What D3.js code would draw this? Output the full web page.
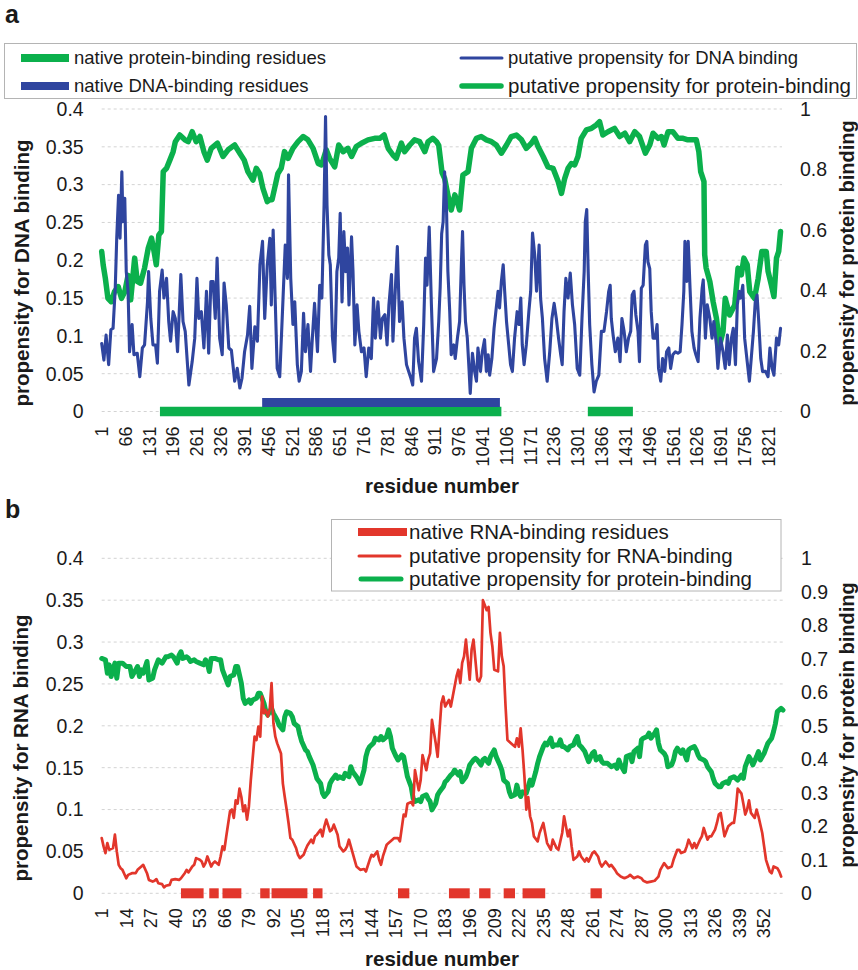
<!DOCTYPE html>
<html>
<head>
<meta charset="utf-8">
<script src="https://cdn.jsdelivr.net/npm/d3@7"></script>
<style>
  html, body { margin: 0; padding: 0; background: #fff; }
  svg { display: block; font-family: "Liberation Sans", Arial, Helvetica, sans-serif; }
</style>
</head>
<body>
<svg id="chart" width="858" height="970"></svg>
<script>
// ---------- Panel a: protein with DNA-binding and protein-binding propensities ----------
const residueTicksA = [1, 66, 131, 196, 261, 326, 391, 456, 521, 586, 651, 716, 781, 846, 911, 976,
  1041, 1106, 1171, 1236, 1301, 1366, 1431, 1496, 1561, 1626, 1691, 1756, 1821];
const lengthA = 1858;
const leftTicksA = [0, 0.05, 0.1, 0.15, 0.2, 0.25, 0.3, 0.35, 0.4];
const rightTicksA = [0, 0.2, 0.4, 0.6, 0.8, 1];

// putative propensity for DNA binding (left axis), [residue, value]
const dnaPropensity = [
  [1,0.09],[7,0.068],[13,0.101],[20,0.062],[26,0.108],[32,0.11],[38,0.163],[42,0.229],[47,0.286],[51,0.229],
  [56,0.317],[59,0.251],[64,0.282],[68,0.185],[73,0.159],[77,0.079],[84,0.115],[89,0.075],[98,0.077],[105,0.046],
  [112,0.084],[118,0.088],[126,0.145],[129,0.185],[135,0.123],[141,0.088],[148,0.088],[153,0.064],[159,0.159],[166,0.187],
  [171,0.15],[178,0.176],[184,0.119],[189,0.093],[196,0.132],[202,0.123],[208,0.079],[217,0.181],[223,0.119],[229,0.106],
  [239,0.035],[248,0.066],[255,0.097],[261,0.176],[266,0.123],[273,0.132],[280,0.084],[287,0.159],[293,0.077],[299,0.172],
  [305,0.172],[311,0.123],[316,0.203],[323,0.097],[330,0.075],[335,0.17],[341,0.141],[348,0.084],[355,0.081],[364,0.04],
  [371,0.057],[378,0.031],[384,0.044],[391,0.079],[399,0.101],[405,0.139],[411,0.057],[419,0.112],[426,0.093],[433,0.194],
  [440,0.225],[446,0.123],[453,0.194],[460,0.229],[464,0.141],[469,0.24],[475,0.141],[480,0.057],[487,0.046],[496,0.15],
  [502,0.22],[508,0.176],[511,0.313],[517,0.176],[523,0.115],[528,0.145],[535,0.062],[540,0.04],[546,0.053],[552,0.13],
  [557,0.079],[564,0.115],[571,0.053],[576,0.097],[582,0.143],[590,0.079],[596,0.167],[602,0.15],[608,0.273],[612,0.39],
  [616,0.273],[621,0.207],[625,0.194],[631,0.097],[637,0.066],[643,0.185],[648,0.203],[652,0.262],[657,0.145],[662,0.238],
  [667,0.185],[672,0.216],[676,0.141],[683,0.231],[687,0.185],[692,0.088],[698,0.141],[703,0.106],[710,0.079],[717,0.084],
  [723,0.046],[730,0.084],[737,0.07],[743,0.15],[748,0.097],[755,0.145],[762,0.097],[767,0.123],[774,0.128],[780,0.088],
  [785,0.141],[792,0.181],[796,0.093],[803,0.167],[808,0.218],[814,0.119],[821,0.145],[826,0.097],[833,0.062],[839,0.053],
  [845,0.044],[850,0.035],[855,0.097],[860,0.11],[866,0.066],[874,0.04],[880,0.115],[885,0.203],[889,0.167],[895,0.244],
  [901,0.141],[907,0.053],[915,0.07],[921,0.119],[925,0.165],[929,0.235],[933,0.251],[937,0.317],[942,0.273],[946,0.185],
  [951,0.132],[955,0.075],[962,0.088],[966,0.07],[972,0.097],[978,0.119],[983,0.198],[986,0.238],[990,0.167],[994,0.119],
  [999,0.097],[1004,0.053],[1007,0.024],[1013,0.077],[1019,0.053],[1024,0.04],[1028,0.084],[1035,0.053],[1040,0.079],[1046,0.095],
  [1051,0.053],[1056,0.075],[1060,0.048],[1066,0.07],[1072,0.11],[1078,0.137],[1083,0.159],[1087,0.137],[1092,0.172],[1097,0.194],
  [1101,0.159],[1106,0.119],[1112,0.088],[1117,0.062],[1122,0.053],[1128,0.097],[1135,0.132],[1140,0.115],[1145,0.15],[1149,0.088],
  [1154,0.062],[1160,0.088],[1167,0.132],[1172,0.159],[1177,0.236],[1183,0.207],[1188,0.159],[1195,0.22],[1199,0.15],[1204,0.123],
  [1210,0.07],[1217,0.04],[1224,0.079],[1230,0.123],[1236,0.143],[1242,0.123],[1248,0.097],[1254,0.075],[1258,0.062],[1263,0.132],
  [1268,0.176],[1274,0.15],[1280,0.183],[1286,0.141],[1292,0.115],[1299,0.057],[1306,0.048],[1312,0.123],[1318,0.185],[1321,0.251],
  [1325,0.267],[1329,0.185],[1333,0.115],[1339,0.062],[1345,0.026],[1351,0.04],[1358,0.048],[1365,0.106],[1372,0.106],[1379,0.132],
  [1385,0.159],[1389,0.167],[1392,0.123],[1397,0.101],[1403,0.079],[1410,0.097],[1416,0.066],[1421,0.123],[1427,0.106],[1433,0.079],
  [1439,0.097],[1445,0.106],[1449,0.154],[1454,0.159],[1459,0.128],[1465,0.106],[1469,0.066],[1474,0.163],[1479,0.167],[1485,0.22],
  [1489,0.225],[1492,0.198],[1497,0.189],[1501,0.132],[1506,0.097],[1512,0.097],[1517,0.115],[1521,0.057],[1527,0.04],[1532,0.07],
  [1538,0.053],[1543,0.079],[1549,0.084],[1554,0.057],[1560,0.075],[1567,0.079],[1574,0.077],[1580,0.079],[1585,0.115],[1590,0.159],
  [1593,0.225],[1598,0.172],[1602,0.225],[1607,0.163],[1612,0.106],[1618,0.084],[1623,0.075],[1629,0.066],[1634,0.123],[1640,0.163],
  [1643,0.174],[1649,0.097],[1654,0.141],[1661,0.123],[1667,0.097],[1672,0.119],[1679,0.088],[1683,0.057],[1690,0.097],[1697,0.079],
  [1703,0.057],[1709,0.101],[1714,0.062],[1720,0.097],[1725,0.11],[1731,0.062],[1736,0.141],[1741,0.159],[1745,0.15],[1751,0.167],
  [1756,0.097],[1763,0.066],[1769,0.04],[1774,0.07],[1780,0.106],[1785,0.145],[1790,0.154],[1794,0.123],[1800,0.07],[1805,0.053],
  [1813,0.053],[1820,0.046],[1825,0.084],[1831,0.057],[1836,0.048],[1843,0.097],[1849,0.088],[1854,0.11]
];

// putative propensity for protein-binding (right axis), [residue, value]
const proteinPropensityA = [
  [1,0.529],[5,0.485],[11,0.44],[18,0.374],[27,0.363],[36,0.396],[46,0.413],[55,0.374],[64,0.396],[73,0.45],
  [80,0.369],[91,0.507],[98,0.43],[107,0.424],[118,0.474],[128,0.54],[137,0.573],[144,0.529],[150,0.485],[157,0.584],
  [164,0.595],[169,0.793],[178,0.804],[187,0.831],[196,0.859],[202,0.892],[214,0.914],[228,0.898],[237,0.892],[248,0.925],
  [259,0.892],[269,0.909],[280,0.859],[289,0.831],[300,0.87],[317,0.887],[332,0.843],[346,0.865],[364,0.881],[378,0.854],
  [390,0.831],[400,0.793],[414,0.765],[423,0.804],[432,0.787],[441,0.738],[453,0.694],[460,0.70],[466,0.70],[473,0.738],
  [482,0.787],[491,0.804],[500,0.859],[510,0.837],[523,0.87],[537,0.892],[551,0.909],[564,0.898],[578,0.87],[592,0.82],
  [601,0.815],[614,0.865],[623,0.837],[637,0.809],[648,0.881],[660,0.859],[673,0.87],[683,0.843],[696,0.876],[710,0.887],
  [728,0.898],[746,0.903],[760,0.903],[772,0.914],[783,0.87],[796,0.848],[805,0.837],[819,0.887],[828,0.859],[842,0.881],
  [855,0.898],[869,0.892],[883,0.859],[892,0.892],[905,0.903],[915,0.892],[921,0.88],[926,0.83],[930,0.79],[937,0.771],
  [946,0.716],[955,0.666],[965,0.716],[974,0.683],[978,0.666],[987,0.782],[1001,0.793],[1010,0.87],[1024,0.903],[1037,0.909],
  [1051,0.898],[1065,0.892],[1078,0.881],[1092,0.854],[1106,0.881],[1119,0.909],[1133,0.914],[1147,0.898],[1160,0.87],[1174,0.887],
  [1183,0.903],[1192,0.876],[1206,0.843],[1219,0.809],[1233,0.804],[1247,0.76],[1256,0.721],[1265,0.771],[1274,0.804],[1283,0.82],
  [1292,0.815],[1301,0.843],[1310,0.903],[1324,0.931],[1338,0.936],[1351,0.947],[1360,0.958],[1369,0.914],[1383,0.925],[1401,0.936],
  [1415,0.909],[1429,0.92],[1442,0.892],[1456,0.925],[1469,0.909],[1485,0.854],[1497,0.881],[1506,0.92],[1520,0.903],[1529,0.909],
  [1536,0.881],[1547,0.925],[1560,0.925],[1574,0.903],[1588,0.903],[1601,0.898],[1615,0.898],[1624,0.898],[1631,0.859],[1636,0.793],
  [1645,0.76],[1647,0.518],[1651,0.474],[1661,0.43],[1670,0.363],[1679,0.308],[1688,0.22],[1697,0.264],[1703,0.374],[1715,0.319],
  [1729,0.352],[1738,0.474],[1747,0.452],[1754,0.507],[1763,0.485],[1770,0.396],[1783,0.374],[1793,0.44],[1803,0.529],[1815,0.529],
  [1820,0.463],[1829,0.418],[1836,0.38],[1843,0.507],[1849,0.529],[1854,0.595]
];

// annotated binding regions, [first residue, last residue]
const nativeProteinA = [[160, 1092], [1328, 1451]];
const nativeDNA = [[439, 1088]];
const nativeDNALevel = 0.012;

// ---------- Panel b: protein with RNA-binding and protein-binding propensities ----------
const residueTicksB = [1, 14, 27, 40, 53, 66, 79, 92, 105, 118, 131, 144, 157, 170, 183, 196, 209,
  222, 235, 248, 261, 274, 287, 300, 313, 326, 339, 352];
const lengthB = 362;
const leftTicksB = [0, 0.05, 0.1, 0.15, 0.2, 0.25, 0.3, 0.35, 0.4];
const rightTicksB = [0, 0.1, 0.2, 0.3, 0.4, 0.5, 0.6, 0.7, 0.8, 0.9, 1];

// putative propensity for RNA-binding (left axis)
const rnaPropensity = [
  [1,0.066],[2,0.056],[3,0.048],[4,0.06],[5,0.052],[7,0.054],[8,0.07],[9,0.05],[10,0.034],[11,0.03],
  [12,0.028],[14,0.018],[15,0.022],[17,0.024],[19,0.024],[20,0.028],[22,0.032],[23,0.034],[25,0.024],[26,0.016],
  [28,0.014],[29,0.015],[30,0.017],[31,0.012],[33,0.011],[34,0.007],[35,0.009],[37,0.01],[38,0.016],[40,0.017],
  [42,0.016],[43,0.018],[45,0.024],[46,0.028],[47,0.025],[49,0.032],[50,0.034],[51,0.042],[53,0.04],[54,0.038],
  [55,0.032],[56,0.036],[57,0.044],[59,0.032],[60,0.036],[61,0.038],[63,0.034],[64,0.044],[65,0.056],[66,0.052],
  [67,0.068],[69,0.098],[70,0.1],[71,0.09],[72,0.111],[73,0.107],[74,0.125],[75,0.115],[76,0.098],[77,0.105],
  [78,0.088],[79,0.104],[80,0.135],[82,0.187],[83,0.183],[84,0.199],[85,0.187],[86,0.235],[87,0.215],[88,0.219],
  [89,0.211],[90,0.219],[91,0.251],[92,0.203],[93,0.187],[94,0.179],[96,0.167],[97,0.131],[98,0.115],[99,0.1],
  [100,0.084],[101,0.066],[102,0.064],[104,0.054],[105,0.046],[106,0.042],[108,0.046],[109,0.052],[110,0.057],[112,0.064],
  [113,0.06],[114,0.068],[115,0.07],[117,0.076],[118,0.068],[119,0.08],[120,0.088],[122,0.074],[123,0.076],[124,0.082],
  [126,0.07],[127,0.056],[129,0.05],[130,0.052],[131,0.056],[132,0.064],[134,0.048],[135,0.04],[136,0.032],[138,0.028],
  [140,0.029],[141,0.026],[143,0.04],[144,0.046],[145,0.044],[147,0.05],[148,0.04],[149,0.034],[150,0.044],[152,0.058],
  [153,0.06],[155,0.064],[156,0.066],[158,0.066],[159,0.062],[161,0.094],[162,0.092],[163,0.107],[165,0.109],[166,0.105],
  [167,0.147],[169,0.123],[170,0.135],[171,0.165],[173,0.147],[174,0.16],[175,0.167],[176,0.207],[178,0.179],[179,0.163],
  [180,0.195],[181,0.227],[182,0.235],[183,0.223],[185,0.231],[186,0.223],[187,0.235],[189,0.259],[190,0.267],[191,0.251],
  [192,0.275],[193,0.283],[194,0.303],[196,0.255],[197,0.291],[198,0.303],[200,0.255],[201,0.253],[202,0.259],[203,0.35],
  [205,0.338],[206,0.342],[207,0.311],[208,0.295],[209,0.267],[211,0.265],[212,0.311],[213,0.283],[214,0.271],[215,0.223],
  [216,0.183],[217,0.181],[218,0.179],[220,0.175],[221,0.185],[222,0.175],[223,0.197],[224,0.171],[225,0.139],[226,0.1],
  [227,0.115],[228,0.092],[229,0.084],[230,0.068],[232,0.062],[233,0.072],[235,0.084],[236,0.072],[237,0.06],[239,0.052],
  [240,0.064],[242,0.054],[243,0.052],[245,0.072],[246,0.092],[248,0.068],[249,0.076],[250,0.056],[251,0.04],[253,0.044],
  [254,0.05],[255,0.044],[257,0.038],[258,0.042],[259,0.038],[261,0.048],[262,0.05],[264,0.044],[265,0.036],[266,0.032],
  [268,0.038],[270,0.032],[271,0.034],[273,0.028],[274,0.024],[276,0.02],[278,0.018],[280,0.02],[281,0.022],[283,0.018],
  [285,0.02],[287,0.018],[288,0.015],[290,0.013],[292,0.014],[294,0.015],[296,0.02],[297,0.028],[299,0.036],[301,0.03],
  [303,0.032],[304,0.04],[306,0.052],[307,0.052],[308,0.048],[310,0.05],[311,0.056],[312,0.064],[314,0.054],[315,0.06],
  [316,0.054],[318,0.064],[319,0.068],[320,0.078],[322,0.064],[323,0.068],[324,0.068],[326,0.076],[327,0.084],[328,0.094],
  [329,0.096],[331,0.068],[332,0.074],[333,0.08],[335,0.084],[336,0.084],[337,0.1],[338,0.125],[340,0.119],[341,0.107],
  [342,0.094],[343,0.1],[344,0.111],[345,0.096],[347,0.09],[348,0.1],[349,0.092],[351,0.072],[352,0.056],[353,0.04],
  [355,0.026],[356,0.024],[357,0.032],[359,0.03],[360,0.026],[361,0.02]
];

// putative propensity for protein-binding (right axis)
const proteinPropensityB = [
  [1,0.701],[3,0.697],[4,0.657],[5,0.682],[6,0.647],[8,0.687],[9,0.642],[10,0.687],[12,0.687],[14,0.677],
  [16,0.677],[17,0.647],[19,0.667],[20,0.677],[21,0.647],[22,0.667],[23,0.657],[25,0.692],[26,0.637],[28,0.642],
  [29,0.667],[31,0.697],[33,0.687],[35,0.706],[36,0.706],[38,0.711],[39,0.706],[41,0.687],[42,0.711],[43,0.721],
  [44,0.701],[46,0.706],[47,0.701],[48,0.692],[50,0.697],[51,0.692],[53,0.687],[55,0.682],[56,0.697],[57,0.687],
  [58,0.662],[59,0.701],[61,0.701],[63,0.697],[64,0.697],[65,0.667],[67,0.637],[68,0.622],[69,0.647],[71,0.652],
  [72,0.677],[73,0.677],[75,0.627],[76,0.582],[77,0.567],[79,0.577],[80,0.567],[81,0.577],[83,0.582],[84,0.597],
  [85,0.597],[87,0.567],[88,0.542],[89,0.532],[91,0.552],[92,0.537],[93,0.527],[94,0.517],[95,0.502],[97,0.488],
  [98,0.527],[99,0.542],[101,0.537],[102,0.527],[103,0.507],[105,0.498],[106,0.473],[107,0.453],[109,0.428],[110,0.423],
  [111,0.408],[113,0.383],[114,0.363],[115,0.343],[117,0.328],[118,0.299],[119,0.289],[121,0.303],[122,0.328],[123,0.338],
  [125,0.353],[126,0.343],[127,0.348],[129,0.343],[130,0.358],[132,0.348],[133,0.378],[134,0.363],[136,0.348],[137,0.338],
  [138,0.328],[140,0.368],[141,0.408],[142,0.428],[143,0.438],[145,0.448],[146,0.463],[148,0.458],[149,0.468],[150,0.458],
  [152,0.468],[153,0.488],[154,0.468],[155,0.433],[157,0.408],[158,0.398],[160,0.413],[161,0.408],[162,0.378],[163,0.348],
  [165,0.318],[166,0.284],[167,0.274],[169,0.279],[170,0.274],[171,0.289],[173,0.294],[174,0.282],[175,0.274],[176,0.249],
  [178,0.269],[179,0.294],[180,0.303],[182,0.318],[183,0.333],[184,0.338],[186,0.353],[187,0.358],[188,0.368],[190,0.353],
  [191,0.363],[192,0.333],[194,0.348],[195,0.363],[196,0.383],[198,0.398],[199,0.403],[200,0.398],[202,0.383],[203,0.398],
  [204,0.403],[206,0.388],[207,0.408],[208,0.418],[209,0.428],[210,0.408],[212,0.383],[213,0.368],[214,0.338],[216,0.328],
  [217,0.303],[218,0.289],[220,0.294],[221,0.323],[222,0.299],[223,0.289],[224,0.303],[226,0.299],[227,0.318],[228,0.338],
  [229,0.323],[231,0.363],[232,0.388],[233,0.408],[235,0.438],[236,0.448],[237,0.443],[239,0.463],[240,0.438],[241,0.443],
  [243,0.443],[244,0.458],[245,0.438],[246,0.438],[248,0.428],[249,0.438],[251,0.443],[252,0.458],[253,0.468],[254,0.443],
  [255,0.438],[257,0.423],[258,0.408],[259,0.393],[261,0.418],[262,0.423],[263,0.398],[265,0.408],[266,0.393],[267,0.388],
  [269,0.388],[270,0.383],[271,0.378],[273,0.383],[274,0.373],[275,0.398],[276,0.383],[278,0.363],[279,0.408],[281,0.413],
  [282,0.393],[283,0.423],[285,0.433],[286,0.408],[287,0.458],[288,0.463],[290,0.468],[291,0.478],[292,0.463],[294,0.478],
  [295,0.488],[296,0.448],[297,0.428],[299,0.418],[300,0.408],[301,0.378],[303,0.383],[304,0.398],[305,0.423],[306,0.433],
  [308,0.418],[309,0.428],[311,0.398],[312,0.428],[313,0.433],[315,0.438],[316,0.428],[317,0.413],[318,0.403],[320,0.398],
  [321,0.393],[322,0.378],[324,0.363],[325,0.343],[326,0.328],[328,0.318],[329,0.318],[330,0.328],[332,0.333],[333,0.328],
  [334,0.343],[336,0.348],[337,0.343],[338,0.338],[340,0.353],[341,0.343],[342,0.378],[344,0.408],[345,0.398],[346,0.383],
  [348,0.408],[349,0.423],[350,0.398],[352,0.418],[353,0.433],[354,0.448],[356,0.463],[357,0.483],[358,0.507],[359,0.542],
  [361,0.552],[362,0.547]
];

const nativeRNA = [[43, 55], [58, 63], [65, 75], [85, 90], [91, 110], [113, 118], [158, 164],
  [185, 196], [201, 207], [214, 220], [224, 236], [260, 266]];

// ---------- drawing ----------
const INK = "#1a1a1a";
const GRID = "#d3d3d3";
const COLORS = { blue: "#2f459f", green: "#0bb04c", red: "#e2362b" };
const FONT_TICK = 19.5, FONT_XTICK = 18, FONT_TITLE = 20.5;

const svg = d3.select("#chart");

function drawPanel(cfg) {
  const g = svg.append("g");
  const x = d3.scaleLinear().domain([1, cfg.length]).range([cfg.left, cfg.right]);
  const yL = d3.scaleLinear().domain([0, 0.4]).range([cfg.bottom, cfg.top]);
  const yR = d3.scaleLinear().domain([0, 1]).range([cfg.bottom, cfg.top]);

  // dotted horizontal gridlines
  g.append("g").selectAll("line").data(cfg.leftTicks).join("line")
    .attr("x1", cfg.left).attr("x2", cfg.right)
    .attr("y1", d => yL(d)).attr("y2", d => yL(d))
    .attr("stroke", GRID).attr("stroke-width", 1).attr("stroke-dasharray", "3,3");

  const lineL = d3.line().x(d => x(d[0])).y(d => yL(d[1]));
  const lineR = d3.line().x(d => x(d[0])).y(d => yR(d[1]));

  // native binding residues as thick bars near zero
  cfg.bars.forEach(b => {
    g.append("g").selectAll("path").data(b.segments).join("path")
      .attr("d", s => lineL([[s[0], b.level], [s[1], b.level]]))
      .attr("fill", "none").attr("stroke", b.color).attr("stroke-width", b.width);
  });

  // propensity profiles
  cfg.series.forEach(s => {
    g.append("path").datum(s.data)
      .attr("d", s.axis === "right" ? lineR : lineL)
      .attr("fill", "none").attr("stroke", s.color).attr("stroke-width", s.width)
      .attr("stroke-linejoin", "round").attr("stroke-linecap", "round");
  });

  // left tick labels
  g.append("g").selectAll("text").data(cfg.leftTicks).join("text")
    .attr("x", cfg.left - 18).attr("y", d => yL(d)).attr("dy", "0.35em")
    .attr("text-anchor", "end").attr("font-size", FONT_TICK).attr("fill", INK)
    .text(d => String(d));

  // right tick labels
  g.append("g").selectAll("text").data(cfg.rightTicks).join("text")
    .attr("x", cfg.right + 18).attr("y", d => yR(d)).attr("dy", "0.35em")
    .attr("text-anchor", "start").attr("font-size", FONT_TICK).attr("fill", INK)
    .text(d => String(d));

  // residue tick labels, rotated
  g.append("g").selectAll("text").data(cfg.xTicks).join("text")
    .attr("transform", d => `translate(${x(d)},${cfg.bottom + 15}) rotate(-90)`)
    .attr("dy", "0.35em").attr("text-anchor", "end")
    .attr("font-size", FONT_XTICK).attr("fill", INK)
    .text(d => String(d));

  // axis titles
  g.append("text").attr("x", 442).attr("y", cfg.xTitleY)
    .attr("text-anchor", "middle").attr("font-size", FONT_TITLE).attr("font-weight", "bold").attr("fill", INK)
    .text("residue number");
  g.append("text").attr("transform", `translate(${cfg.leftTitle[0]},${cfg.leftTitle[1]}) rotate(-90)`)
    .attr("text-anchor", "middle").attr("dominant-baseline", "central")
    .attr("font-size", FONT_TITLE).attr("font-weight", "bold").attr("fill", INK)
    .text(cfg.leftTitleText);
  g.append("text").attr("transform", `translate(${cfg.rightTitle[0]},${cfg.rightTitle[1]}) rotate(-90)`)
    .attr("text-anchor", "middle").attr("dominant-baseline", "central")
    .attr("font-size", FONT_TITLE - 0.5).attr("font-weight", "bold").attr("fill", INK)
    .text("propensity for protein binding");

  // panel letter
  svg.append("text").attr("x", 5).attr("y", cfg.letterY)
    .attr("font-size", 25).attr("font-weight", "bold").attr("fill", INK)
    .text(cfg.letter);
}

function drawLegend(box, items) {
  const g = svg.append("g");
  g.append("rect").attr("x", box.x).attr("y", box.y).attr("width", box.w).attr("height", box.h)
    .attr("fill", "#fff").attr("stroke", "#b4b4b4").attr("stroke-width", 1);
  items.forEach(it => {
    g.append("line").attr("x1", it.x1).attr("x2", it.x2).attr("y1", it.y).attr("y2", it.y)
      .attr("stroke", it.color).attr("stroke-width", it.width)
      .attr("stroke-linecap", it.round ? "round" : "butt");
    g.append("text").attr("x", it.tx).attr("y", it.y).attr("dy", "0.35em")
      .attr("font-size", it.size).attr("fill", INK).text(it.label);
  });
}

drawPanel({
  letter: "a", letterY: 23,
  left: 101.7, right: 782, top: 109, bottom: 411.5, length: lengthA,
  xTicks: residueTicksA, leftTicks: leftTicksA, rightTicks: rightTicksA,
  xTitleY: 493, leftTitle: [21, 273], rightTitle: [846.5, 263],
  leftTitleText: "propensity for DNA binding",
  bars: [
    { segments: nativeProteinA, level: 0, color: COLORS.green, width: 9.5 },
    { segments: nativeDNA, level: nativeDNALevel, color: COLORS.blue, width: 9 }
  ],
  series: [
    { data: proteinPropensityA, axis: "right", color: COLORS.green, width: 5.5 },
    { data: dnaPropensity, axis: "left", color: COLORS.blue, width: 3.1 }
  ]
});

drawPanel({
  letter: "b", letterY: 518,
  left: 101.7, right: 783, top: 558.3, bottom: 893.3, length: lengthB,
  xTicks: residueTicksB, leftTicks: leftTicksB, rightTicks: rightTicksB,
  xTitleY: 966, leftTitle: [20, 748], rightTitle: [847, 725],
  leftTitleText: "propensity for RNA binding",
  bars: [
    { segments: nativeRNA, level: 0, color: COLORS.red, width: 10 }
  ],
  series: [
    { data: proteinPropensityB, axis: "right", color: COLORS.green, width: 5 },
    { data: rnaPropensity, axis: "left", color: COLORS.red, width: 2.7 }
  ]
});

drawLegend({ x: 4.5, y: 43.5, w: 852, h: 55 }, [
  { x1: 21, x2: 69, y: 58, color: COLORS.green, width: 8, tx: 74, size: 18.5, label: "native protein-binding residues" },
  { x1: 21, x2: 69, y: 86, color: COLORS.blue, width: 8, tx: 74, size: 18.5, label: "native DNA-binding residues" },
  { x1: 461, x2: 502, y: 58, color: COLORS.blue, width: 3, round: true, tx: 508, size: 18.5, label: "putative propensity for DNA binding" },
  { x1: 462, x2: 501, y: 86, color: COLORS.green, width: 5.5, round: true, tx: 508, size: 20.5, label: "putative propensity for protein-binding" }
]);

drawLegend({ x: 331.5, y: 519.5, w: 449.5, h: 71.5 }, [
  { x1: 358, x2: 407, y: 532, color: COLORS.red, width: 8, tx: 409, size: 20.5, label: "native RNA-binding residues" },
  { x1: 359, x2: 400, y: 556, color: COLORS.red, width: 3, round: true, tx: 409, size: 20.5, label: "putative propensity for RNA-binding" },
  { x1: 361, x2: 401, y: 579, color: COLORS.green, width: 5, round: true, tx: 409, size: 20.5, label: "putative propensity for protein-binding" }
]);
</script>
</body>
</html>
